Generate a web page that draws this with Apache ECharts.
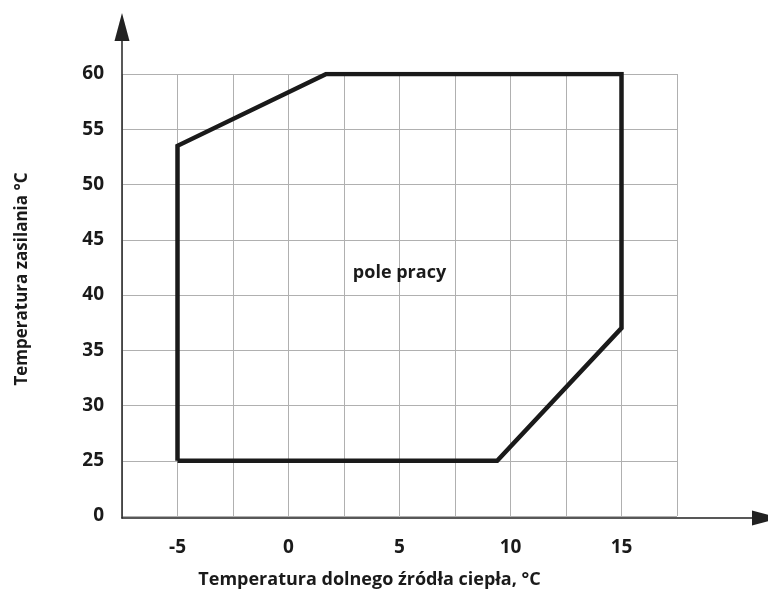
<!DOCTYPE html>
<html>
<head>
<meta charset="utf-8">
<script src="https://cdn.jsdelivr.net/npm/echarts@6/dist/echarts.min.js"></script>
<style>html,body{margin:0;padding:0;background:#fff}#c{width:768px;height:594px}</style>
</head>
<body>
<div id="c"></div>
<script>
// Operating envelope corners [lower source temp °C, flow temp °C]
const envelopeX = [-5, -5, 1.7, 15, 15, 9.4, -5];
const envelopeY = [25, 53.5, 60, 60, 37, 25, 25];
const xTickLabels = [-5, 0, 5, 10, 15];
// y axis is broken: bottom tick (value 20 on scale) is shown as "0"
const yTickValues = [20, 25, 30, 35, 40, 45, 50, 55, 60];
const yTickLabels = ['0', '25', '30', '35', '40', '45', '50', '55', '60'];
const areaLabel = 'pole pracy';
const areaLabelPos = [5, 42.0];
const xName = 'Temperatura dolnego źródła ciepła, °C';
const yName = 'Temperatura zasilania °C';

const FONT = '"Open Sans", "Noto Sans", sans-serif';
const chart = echarts.init(document.getElementById('c'));
chart.setOption({
  animation: false,
  grid: [
    {left: 122, top: 74, right: 91, bottom: 76},
    {left: 122, top: 27, right: 2, bottom: 76}
  ],
  xAxis: [
    {
      type: 'value', gridIndex: 0, min: -7.5, max: 17.5, interval: 2.5,
      axisLine: {show: false}, axisTick: {show: false},
      splitLine: {show: true, lineStyle: {color: '#b0b0b0', width: 1}},
      axisLabel: {
        margin: 22, color: '#1a1a1a', fontFamily: FONT, fontWeight: 'bold', fontSize: 19,
        formatter: v => xTickLabels.includes(v) ? String(v) : ''
      },
      name: xName, nameLocation: 'middle', nameGap: 55,
      nameTextStyle: {color: '#1a1a1a', fontFamily: FONT, fontWeight: 'bold', fontSize: 18, padding: [0, 60, 0, 0]}
    },
    {
      type: 'value', gridIndex: 1, min: 0, max: 1,
      axisLine: {show: true, symbol: ['none', 'triangle'], symbolSize: [15, 28], lineStyle: {color: '#222', width: 1.5}},
      axisTick: {show: false}, axisLabel: {show: false}, splitLine: {show: false}
    }
  ],
  yAxis: [
    {
      type: 'value', gridIndex: 0, min: 20, max: 60, interval: 5,
      axisLine: {show: false}, axisTick: {show: false},
      splitLine: {show: true, lineStyle: {color: '#b0b0b0', width: 1}},
      axisLabel: {
        margin: 18, color: '#1a1a1a', fontFamily: FONT, fontWeight: 'bold', fontSize: 19,
        formatter: v => { const i = yTickValues.indexOf(v); return i >= 0 ? yTickLabels[i] : ''; }
      },
      name: yName, nameLocation: 'middle', nameGap: 91, nameRotate: 90,
      nameTextStyle: {color: '#1a1a1a', fontFamily: FONT, fontWeight: 'bold', fontSize: 17, padding: [0, 0, 0, 32]}
    },
    {
      type: 'value', gridIndex: 1, min: 0, max: 1,
      axisLine: {show: true, symbol: ['none', 'triangle'], symbolSize: [15, 28], lineStyle: {color: '#222', width: 1.5}},
      axisTick: {show: false}, axisLabel: {show: false}, splitLine: {show: false}
    }
  ],
  series: [
    {
      type: 'line', xAxisIndex: 0, yAxisIndex: 0,
      data: envelopeX.map((x, i) => [x, envelopeY[i]]),
      symbol: 'none', lineStyle: {color: '#1a1a1a', width: 4.5, join: 'miter'}
    },
    {
      type: 'scatter', xAxisIndex: 0, yAxisIndex: 0,
      data: [areaLabelPos], symbolSize: 1,
      itemStyle: {opacity: 1, color: 'rgba(0,0,0,0)'},
      label: {show: true, position: 'inside', formatter: areaLabel, color: '#1a1a1a',
        fontFamily: FONT, fontWeight: 'bold', fontSize: 18}
    }
  ]
});
</script>
</body>
</html>
